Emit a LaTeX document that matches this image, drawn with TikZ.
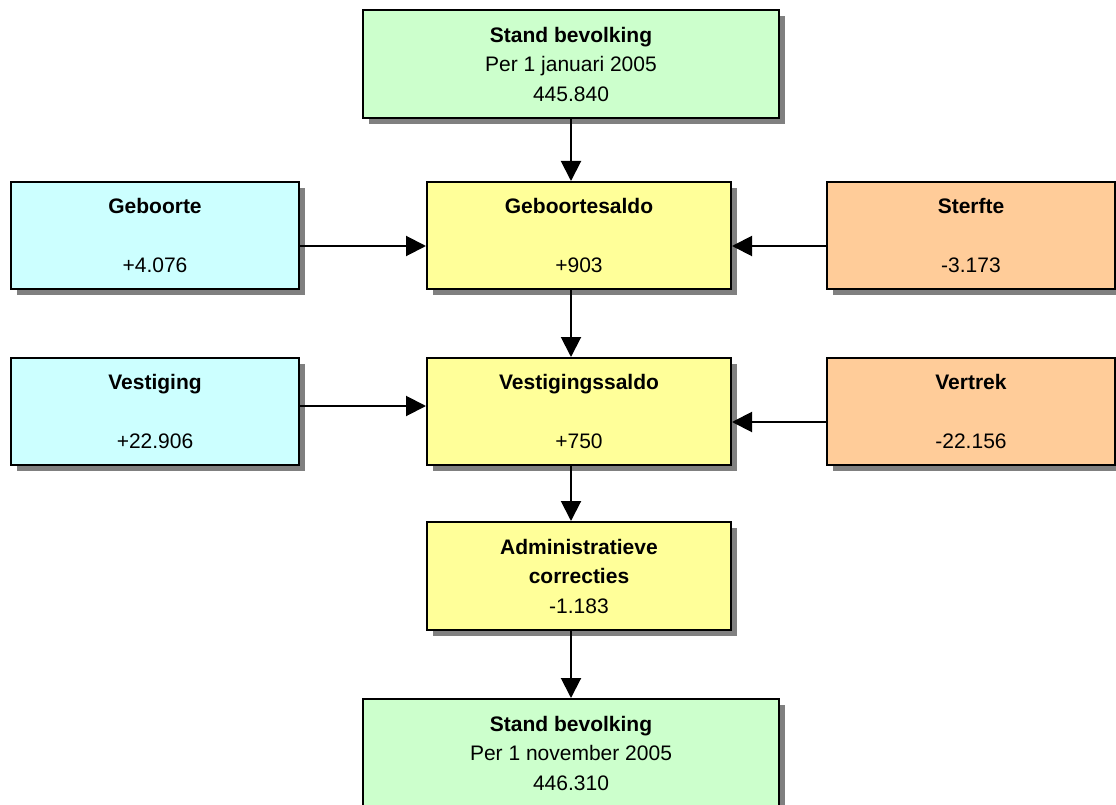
\documentclass[tikz,border=0pt]{standalone}
\usepackage{fontspec}
\setmainfont{Liberation Sans}
\usetikzlibrary{shadows,arrows.meta}
\definecolor{cgreen}{HTML}{CCFFCC}
\definecolor{cyellow}{HTML}{FFFF99}
\definecolor{ccyan}{HTML}{CCFFFF}
\definecolor{corange}{HTML}{FFCC99}
\definecolor{shadowgray}{HTML}{808080}
\tikzset{
  box/.style={draw=black, line width=2pt, inner sep=0pt, align=center,
    font=\fontsize{21}{29.5}\selectfont,
    drop shadow={shadow xshift=6pt, shadow yshift=-6pt, fill=shadowgray, opacity=1}},
  bigbox/.style={box, fill=cgreen, minimum width=416pt, minimum height=108pt},
  midbox/.style={box, fill=cyellow, minimum width=304pt, minimum height=107pt},
  inbox/.style={box, fill=ccyan, minimum width=288pt, minimum height=107pt},
  outbox/.style={box, fill=corange, minimum width=288pt, minimum height=107pt},
  arr/.style={line width=2pt, -{Triangle[length=20pt,width=20pt]}}
}
\begin{document}
\begin{tikzpicture}[x=1pt,y=-1pt]
\clip (0,0) rectangle (1116,805);
\fill[white] (0,0) rectangle (1116,805);

\node[bigbox] (top) at (571,64) {\textbf{Stand bevolking}\\Per 1 januari 2005\\445.840};
\node[midbox] (gsaldo) at (579,235.5) {\textbf{Geboortesaldo}\\[29.5pt]+903};
\node[inbox] (geb) at (155,235.5) {\textbf{Geboorte}\\[29.5pt]+4.076};
\node[outbox] (sterf) at (971,235.5) {\textbf{Sterfte}\\[29.5pt]-3.173};
\node[midbox] (vsaldo) at (579,411.5) {\textbf{Vestigingssaldo}\\[29.5pt]+750};
\node[inbox] (vest) at (155,411.5) {\textbf{Vestiging}\\[29.5pt]+22.906};
\node[outbox] (vertr) at (971,411.5) {\textbf{Vertrek}\\[29.5pt]-22.156};
\node[midbox, minimum height=108pt] (admin) at (579,576) {\textbf{Administratieve}\\\textbf{correcties}\\-1.183};
\node[bigbox] (bottom) at (571,753) {\textbf{Stand bevolking}\\Per 1 november 2005\\446.310};

\draw[arr] (top.south) -- (top.south |- gsaldo.north);
\draw[arr] (gsaldo.south -| top.south) -- (vsaldo.north -| top.south);
\draw[arr] (vsaldo.south -| top.south) -- (admin.north -| top.south);
\draw[arr] (admin.south -| top.south) -- (bottom.north);

\draw[arr] ([yshift=-10.5pt]geb.east) -- ([yshift=-10.5pt]geb.east -| gsaldo.west);
\draw[arr] ([yshift=-10.5pt]sterf.west) -- ([yshift=-10.5pt]sterf.west -| gsaldo.east);
\draw[arr] ([yshift=5.5pt]vest.east) -- ([yshift=5.5pt]vest.east -| vsaldo.west);
\draw[arr] ([yshift=-10.5pt]vertr.west) -- ([yshift=-10.5pt]vertr.west -| vsaldo.east);
\end{tikzpicture}
\end{document}
